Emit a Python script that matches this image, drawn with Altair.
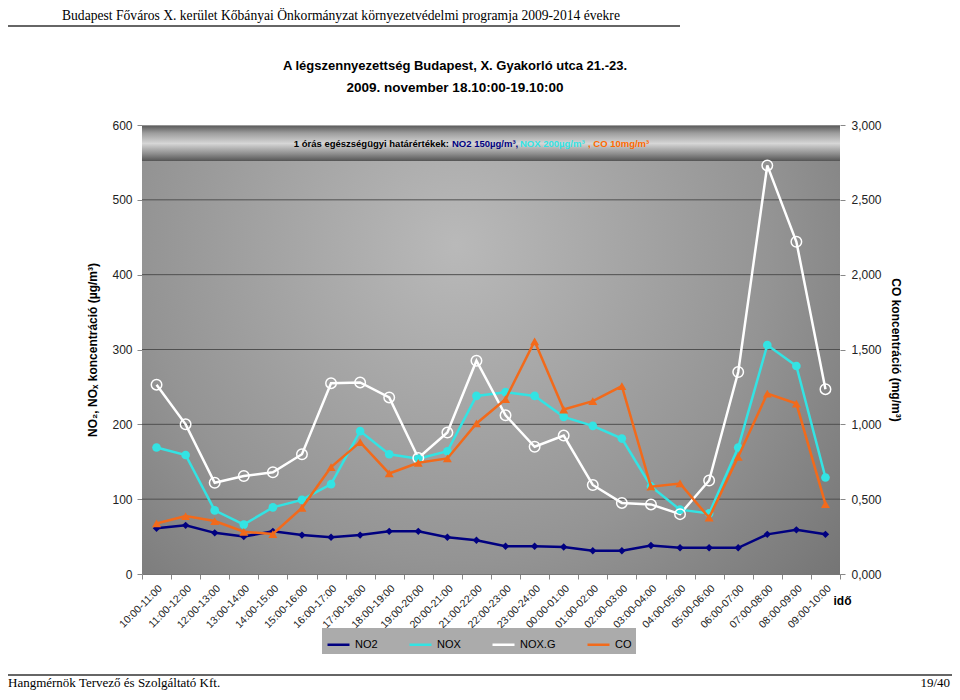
import altair as alt
import pandas as pd

hours = ["10:00-11:00", "11:00-12:00", "12:00-13:00", "13:00-14:00", "14:00-15:00",
         "15:00-16:00", "16:00-17:00", "17:00-18:00", "18:00-19:00", "19:00-20:00",
         "20:00-21:00", "21:00-22:00", "22:00-23:00", "23:00-24:00", "00:00-01:00",
         "01:00-02:00", "02:00-03:00", "03:00-04:00", "04:00-05:00", "05:00-06:00",
         "06:00-07:00", "07:00-08:00", "08:00-09:00", "09:00-10:00"]
no2 = [61, 65, 55, 50, 57, 52, 49, 52, 57, 57, 49, 45, 37, 37, 36, 31, 31, 38, 35, 35, 35, 53, 59, 53]
nox = [169, 159, 85, 66, 89, 99, 120, 191, 160, 154, 164, 238, 243, 238, 210, 198, 181, 117, 86, 81, 169, 306, 278, 129]
noxg = [253, 200, 122, 131, 136, 160, 255, 256, 236, 155, 189, 285, 212, 170, 185, 119, 95, 93, 80, 125, 270, 546, 444, 247]
co = [0.338, 0.387, 0.354, 0.282, 0.267, 0.442, 0.714, 0.881, 0.672, 0.743, 0.772, 1.006,
      1.168, 1.555, 1.099, 1.155, 1.255, 0.583, 0.605, 0.376, 0.783, 1.206, 1.139, 0.467]
series_names = ["NO2", "NOX", "NOX.G", "CO"]
left_ticks = [0, 100, 200, 300, 400, 500, 600]
right_ticks = [0, 0.5, 1.0, 1.5, 2.0, 2.5, 3.0]
grid_values = [100, 200, 300, 400, 500]

header_text = "Budapest Főváros X. kerület Kőbányai Önkormányzat környezetvédelmi programja 2009-2014 évekre"
title1 = "A légszennyezettség Budapest, X. Gyakorló utca 21.-23."
title2 = "2009. november 18.10:00-19.10:00"
box_parts = ["1  órás egészségügyi határértékek: ", "NO2  150µg/m³,", "NOX   200µg/m³", ", CO  10mg/m³"]
footer_left = "Hangmérnök Tervező és Szolgáltató Kft."
footer_right = "19/40"

series_colors = ["#000080", "#33e3e3", "#ffffff", "#f26a1b"]
W, H = 698, 449
FONT = "Liberation Sans"

left_df = pd.DataFrame({
    "hour": hours * 3,
    "series": ["NO2"] * 24 + ["NOX"] * 24 + ["NOX.G"] * 24,
    "value": no2 + nox + noxg,
})
co_df = pd.DataFrame({"hour": hours, "series": "CO", "value": co})
grid_df = pd.DataFrame({"v": grid_values})
one = pd.DataFrame({"a": [1]})

x_enc = alt.X(
    "hour:N", sort=hours,
    scale=alt.Scale(type="band", paddingInner=0, paddingOuter=0),
    bandPosition=0.5,
    axis=alt.Axis(title="idő", labelAngle=-45, labelFont=FONT, labelFontSize=10.5,
                  labelColor="#222", labelPadding=4, tickBand="extent", tickSize=5,
                  tickColor="#888", domainColor="#777", grid=False,
                  titleFont=FONT, titleFontSize=12, titleFontWeight="bold",
                  titleX=691, titleY=26, titleAlign="left", titleBaseline="middle", titleAngle=0),
)
left_scale = alt.Scale(domain=[0, 600])
left_axis = alt.Axis(orient="left", values=left_ticks, title="NO₂, NOₓ koncentráció (µg/m³)",
                     labelFont=FONT, labelFontSize=12, labelColor="#222", tickSize=5, tickColor="#888",
                     labelPadding=5, domain=False, grid=False, titleFont=FONT, titleFontSize=12,
                     titleFontWeight="bold", titleColor="black", titlePadding=12)
right_axis = alt.Axis(orient="right", values=right_ticks, title="CO koncentráció (mg/m³)",
                      labelExpr="replace(format(datum.value, '.3f'), '.', ',')",
                      labelFont=FONT, labelFontSize=12, labelColor="#222", tickSize=5, tickColor="#888",
                      labelPadding=6, domain=False, grid=False, titleFont=FONT, titleFontSize=12,
                      titleFontWeight="bold", titleColor="black", titlePadding=7)

legend = alt.Legend(title=None, orient="none", legendX=180, legendY=503, direction="horizontal",
                    fillColor="#ababab", padding=4, symbolType="stroke", symbolSize=484,
                    symbolStrokeWidth=3, labelFont=FONT, labelFontSize=11, labelColor="black",
                    columnPadding=26, symbolOpacity=1)
color_enc = alt.Color("series:N", scale=alt.Scale(domain=series_names, range=series_colors), legend=legend)
sw_enc = alt.StrokeWidth("series:N", scale=alt.Scale(domain=series_names, range=[2.5, 2.5, 3.5, 3.5]), legend=None)

bg = alt.Chart(one).mark_rect(fill={
    "gradient": "radial", "x1": 0.45, "y1": 0.35, "x2": 0.45, "y2": 0.35, "r1": 0, "r2": 0.75,
    "stops": [{"offset": 0, "color": "#b9b9b9"}, {"offset": 0.6, "color": "#949494"},
              {"offset": 1, "color": "#727272"}]}).encode(
    x=alt.value(0), x2=alt.value(W), y=alt.value(0), y2=alt.value(H))

box = alt.Chart(one).mark_rect(fill={
    "gradient": "linear", "x1": 0, "y1": 0, "x2": 0, "y2": 1,
    "stops": [{"offset": 0, "color": "#5e5e5e"}, {"offset": 0.2, "color": "#9c9c9c"},
              {"offset": 0.5, "color": "#d6d6d6"}, {"offset": 0.8, "color": "#8c8c8c"},
              {"offset": 1, "color": "#555555"}]}).encode(
    x=alt.value(0), x2=alt.value(W), y=alt.value(1), y2=alt.value(36))

grid = alt.Chart(grid_df).mark_rule(color="#505050", strokeWidth=1).encode(
    y=alt.Y("v:Q", scale=left_scale, axis=left_axis))

left_lines = alt.Chart(left_df).mark_line().encode(
    x=x_enc, y=alt.Y("value:Q", scale=left_scale, axis=left_axis), color=color_enc, strokeWidth=sw_enc)

def pts(df, name, shape, size, color, filled, scale, axis, strokeWidth=1):
    return alt.Chart(df).transform_filter(alt.datum.series == name).mark_point(
        shape=shape, size=size, color=color, filled=filled, opacity=1, strokeWidth=strokeWidth).encode(
        x=x_enc, y=alt.Y("value:Q", scale=scale, axis=axis))

p_no2 = pts(left_df, "NO2", "diamond", 55, series_colors[0], True, left_scale, left_axis)
p_nox = pts(left_df, "NOX", "circle", 75, series_colors[1], True, left_scale, left_axis)
p_noxg = pts(left_df, "NOX.G", "circle", 110, series_colors[2], False, left_scale, left_axis, 1.5)
left = alt.layer(grid, left_lines, p_no2, p_nox, p_noxg)

right_scale = alt.Scale(domain=[0, 3])
co_line = alt.Chart(co_df).mark_line().encode(
    x=x_enc, y=alt.Y("value:Q", scale=right_scale, axis=right_axis), color=color_enc, strokeWidth=sw_enc)
p_co = pts(co_df, "CO", "triangle-up", 80, series_colors[3], True, right_scale, right_axis)
right = alt.layer(co_line, p_co)

def txt(text, x, y, size, color="black", weight="normal", align="left", font=FONT):
    return alt.Chart(one).mark_text(text=text, fontSize=size, color=color, fontWeight=weight,
                                    align=align, baseline="middle", font=font).encode(
        x=alt.value(x), y=alt.value(y))

def hline(x1, x2, y, color="#333", width=1.5):
    return alt.Chart(one).mark_rule(color=color, strokeWidth=width).encode(
        x=alt.value(x1), x2=alt.value(x2), y=alt.value(y))

decor = [
    txt(header_text, -80, -109, 13.6, font="Liberation Serif"),
    hline(-134, 538, -99),
    txt(title1, 313, -59, 13, weight="bold", align="center"),
    txt(title2, 313, -37, 13.5, weight="bold", align="center"),
    txt(box_parts[0], 307, 19, 9.5, weight="bold", align="right"),
    txt(box_parts[1], 310, 19, 9.5, color=series_colors[0], weight="bold"),
    txt(box_parts[2], 378, 19, 9.5, color=series_colors[1], weight="bold"),
    txt(box_parts[3], 446, 19, 9.5, color="#ff6a00", weight="bold"),
    hline(-134, 810, 550),
    txt(footer_left, -134, 558, 13, font="Liberation Serif"),
    txt(footer_right, 808, 558, 13, align="right", font="Liberation Serif"),
]

chart = alt.layer(bg, box, left, right, *decor).resolve_scale(y="independent").properties(
    width=W, height=H,
    autosize=alt.AutoSizeParams(type="none"),
    padding={"left": 134, "top": 117, "right": 112, "bottom": 118},
).configure_view(stroke=None)

chart.save("out.html", embed_options={"renderer": "svg", "actions": False})
